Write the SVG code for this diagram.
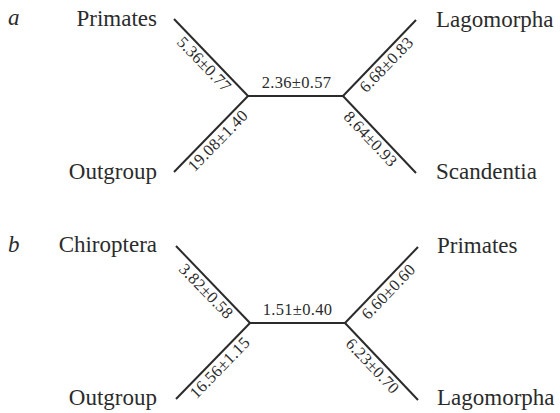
<svg xmlns="http://www.w3.org/2000/svg" width="560" height="413" viewBox="0 0 560 413">
<style>
.bg{fill:#ffffff}
.edge{stroke:#2b2b2b;stroke-width:2;fill:none;stroke-linecap:butt}
.taxon{font-family:"Liberation Serif","Times New Roman",serif;font-size:23px;fill:#2b2b2b}
.panel{font-family:"Liberation Serif","Times New Roman",serif;font-size:23px;font-style:italic;fill:#2b2b2b}
.len{font-family:"Liberation Serif","Times New Roman",serif;font-size:16.5px;fill:#2b2b2b;text-anchor:middle;letter-spacing:0.3px}
.end{text-anchor:end}
</style>
<rect class="bg" x="0" y="0" width="560" height="413"/>

<g id="connectors">
  <!-- tree a -->
  <line class="edge" x1="174" y1="19" x2="248" y2="96"/>
  <line class="edge" x1="174" y1="172" x2="248" y2="96"/>
  <line class="edge" x1="248" y1="96" x2="343" y2="96"/>
  <line class="edge" x1="343" y1="96" x2="416" y2="20"/>
  <line class="edge" x1="343" y1="96" x2="416" y2="173"/>
  <text class="len" transform="translate(211,57.5) rotate(46)" x="0" y="15">5.36±0.77</text>
  <text class="len" transform="translate(211,134) rotate(-45.8)" x="0" y="15">19.08±1.40</text>
  <text class="len" x="296.5" y="88">2.36±0.57</text>
  <text class="len" transform="translate(379.5,58) rotate(-46.2)" x="0" y="15">6.68±0.83</text>
  <text class="len" transform="translate(379.5,134.5) rotate(46.5)" x="-3" y="15">8.64±0.93</text>
  <!-- tree b -->
  <line class="edge" x1="176" y1="246" x2="250" y2="323"/>
  <line class="edge" x1="176" y1="399" x2="250" y2="323"/>
  <line class="edge" x1="250" y1="323" x2="345" y2="323"/>
  <line class="edge" x1="345" y1="323" x2="418" y2="247"/>
  <line class="edge" x1="345" y1="323" x2="418" y2="400"/>
  <text class="len" transform="translate(213,284.5) rotate(46)" x="0" y="15">3.82±0.58</text>
  <text class="len" transform="translate(213,361) rotate(-45.8)" x="0" y="15">16.56±1.15</text>
  <text class="len" x="297.5" y="315">1.51±0.40</text>
  <text class="len" transform="translate(381.5,285) rotate(-46.2)" x="0" y="15">6.60±0.60</text>
  <text class="len" transform="translate(381.5,361.5) rotate(46.5)" x="-3" y="15">6.23±0.70</text>
</g>

<g id="panel-a"><text class="panel" x="8" y="25">a</text></g>
<g id="a-primates"><text class="taxon end" x="157" y="26">Primates</text></g>
<g id="a-outgroup"><text class="taxon end" x="157" y="179">Outgroup</text></g>
<g id="a-lagomorpha"><text class="taxon" x="436" y="27">Lagomorpha</text></g>
<g id="a-scandentia"><text class="taxon" x="436" y="179">Scandentia</text></g>

<g id="panel-b"><text class="panel" x="8" y="252">b</text></g>
<g id="b-chiroptera"><text class="taxon end" x="157" y="252">Chiroptera</text></g>
<g id="b-outgroup"><text class="taxon end" x="157" y="405">Outgroup</text></g>
<g id="b-primates"><text class="taxon" x="437" y="253">Primates</text></g>
<g id="b-lagomorpha"><text class="taxon" x="437" y="405">Lagomorpha</text></g>
</svg>
